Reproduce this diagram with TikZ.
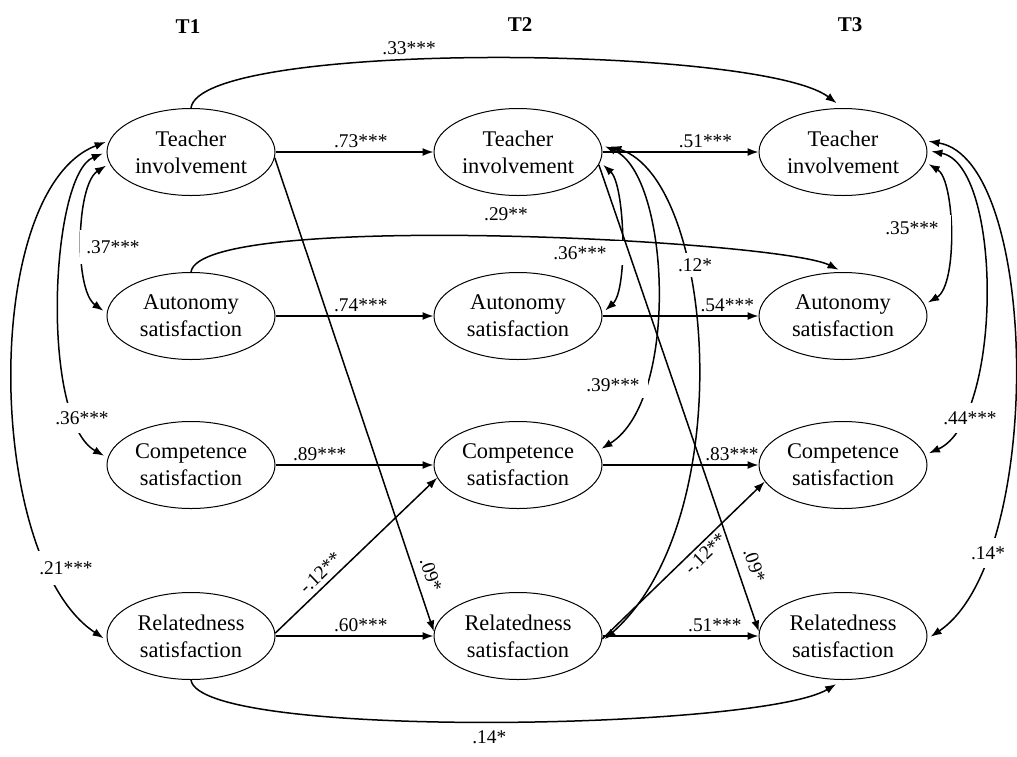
\documentclass[tikz,border=0pt]{standalone}
\usepackage{fontspec}
\setmainfont{Liberation Serif}
\usetikzlibrary{arrows.meta,shapes.geometric}
\newcommand{\varfont}{\fontsize{11.2}{13.5}\selectfont}
\newcommand{\coefont}{\fontsize{9.7}{11}\selectfont}
\begin{document}
\begin{tikzpicture}[x=0.5pt, y=-0.5pt, >={Latex[length=5.5pt,width=4pt]},
    var/.style={draw, ellipse, line width=0.5pt, minimum width=84pt, minimum height=43.5pt, inner sep=0pt, align=center, font=\varfont},
    eff/.style={->, line width=0.75pt},
    cov/.style={<->, line width=0.75pt, shorten <=2pt, shorten >=2pt},
    coef/.style={font=\coefont, inner sep=1.5pt},
    cgap/.style={coef, fill=white, inner ysep=2.5pt},
    wave/.style={font=\bfseries\fontsize{10.5}{12}\selectfont}]
    \useasboundingbox (0,0) rectangle (1017,756);
    \node[wave] (W1) at (188,27) {T1};
    \node[wave] (W2) at (520,25) {T2};
    \node[wave] (W3) at (850,25) {T3};
    \node[var] (TI1) at (191,152) {Teacher\\involvement};
    \node[var] (AS1) at (191,316) {Autonomy\\satisfaction};
    \node[var] (CS1) at (191,465) {Competence\\satisfaction};
    \node[var] (RS1) at (191,636) {Relatedness\\satisfaction};
    \node[var] (TI2) at (518,152) {Teacher\\involvement};
    \node[var] (AS2) at (518,316) {Autonomy\\satisfaction};
    \node[var] (CS2) at (518,465) {Competence\\satisfaction};
    \node[var] (RS2) at (518,636) {Relatedness\\satisfaction};
    \node[var] (TI3) at (843,152) {Teacher\\involvement};
    \node[var] (AS3) at (843,316) {Autonomy\\satisfaction};
    \node[var] (CS3) at (843,465) {Competence\\satisfaction};
    \node[var] (RS3) at (843,636) {Relatedness\\satisfaction};
    \draw[eff] (TI1) -- (TI2) node[coef, pos=.54, above] {.73***};
    \draw[eff] (TI2) -- (TI3) node[coef, pos=.66, above] {.51***};
    \draw[eff] (AS1) -- (AS2) node[coef, pos=.54, above] {.74***};
    \draw[eff] (AS2) -- (AS3) node[coef, pos=.8, above] {.54***};
    \draw[eff] (CS1) -- (CS2) node[coef, pos=.28, above] {.89***};
    \draw[eff] (CS2) -- (CS3) node[coef, pos=.83, above] {.83***};
    \draw[eff] (RS1) -- (RS2) node[coef, pos=.54, above] {.60***};
    \draw[eff] (RS2) -- (RS3) node[coef, pos=.72, above] {.51***};
    \draw[eff] (TI1.356) -- (RS2.177) node[coef, sloped, above=2.5pt, pos=.89] {.09*};
    \draw[eff] (TI2.351) -- (RS3.177) node[coef, sloped, above=3.5pt, pos=.87] {.09*};
    \draw[eff] (RS1.2) -- (CS2.189) node[coef, sloped, above=1pt, pos=.33] {-.12**};
    \draw[eff] (RS2.358) -- (CS3.192) node[coef, sloped, below=1pt, inner sep=.5pt, pos=.59] {-.12**};
    \draw[eff, shorten >=4pt] (TI1.north) .. controls (200,40) and (760,45) .. (TI3.north) node[coef, pos=.41, above=1pt] {.33***};
    \draw[eff, shorten >=2.5pt] (AS1.north) .. controls (200,210) and (780,240) .. (AS3.north) node[coef, pos=.51, above=6pt] {.29**};
    \draw[eff, shorten >=4pt] (RS1.south) .. controls (200,740) and (760,730) .. (RS3.south) node[coef, pos=.5, below=3pt] {.14*};
    \draw[cov] (TI1.188) .. controls (76,185) and (74,290) .. (AS1.178);
    \node[cgap, inner xsep=3pt, inner ysep=5pt] (K1) at (113,247) {.37***};
    \draw[cov] (TI1.180) .. controls (50,175) and (40,420) .. (CS1.175);
    \node[cgap, inner ysep=4pt] (K2) at (82,418) {.36***};
    \draw[cov] (TI1.172) .. controls (-20,190) and (-15,560) .. (RS1.183);
    \node[cgap, inner ysep=5pt] (K3) at (66,568) {.21***};
    \draw[cov] (TI3.353) .. controls (955,180) and (958,285) .. (AS3.8);
    \node[cgap, inner xsep=6pt, inner ysep=3pt] (K4) at (912,228) {.35***};
    \draw[cov] (TI3.1) .. controls (1003,165) and (1003,420) .. (CS3.7);
    \node[cgap, inner ysep=4pt] (K5) at (970,418) {.44***};
    \draw[cov] (TI3.8) .. controls (1040,160) and (1045,560) .. (RS3.358);
    \node[cgap, inner ysep=4pt] (K6) at (988,553) {.14*};
    \draw[cov] (TI2.353) .. controls (625,185) and (628,290) .. (AS2.2);
    \node[cgap, inner xsep=8.5pt] (K7) at (580,253) {.36***};
    \draw[cov] (TI2.5) .. controls (670,175) and (680,400) .. (CS2.10);
    \node[cgap, inner xsep=4pt, inner ysep=3pt] (K8) at (613,385) {.39***};
    \draw[cov, shorten <=5pt] (TI2.6) .. controls (715,180) and (740,520) .. (RS2.356);
    \node[cgap, inner xsep=3pt] (K9) at (695,265) {.12*};
\end{tikzpicture}
\end{document}
